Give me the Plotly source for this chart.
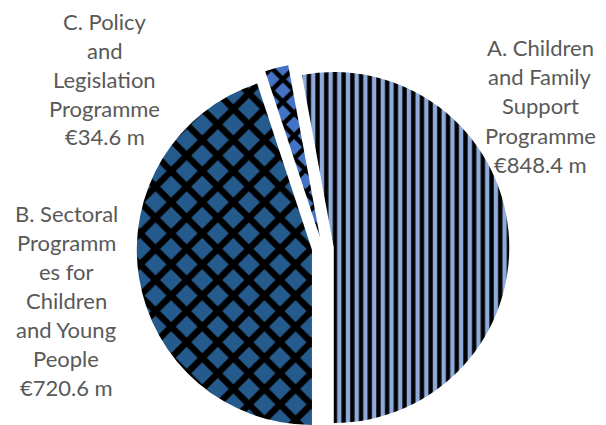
import math
import plotly.graph_objects as go

# Programme spend, € million
programmes = [
    "A. Children and Family Support Programme",
    "B. Sectoral Programmes for Children and Young People",
    "C. Policy and Legislation Programme",
]
spend_m = [848.4, 720.6, 34.6]

# Wrapped label lines shown beside each slice (value line is added from spend_m)
label_lines = [
    ["A. Children", "and Family", "Support", "Programme"],
    ["B. Sectoral", "Programm", "es for", "Children", "and Young", "People"],
    ["C. Policy", "and", "Legislation", "Programme"],
]

# Slice styling
fill_colors = ["#8EAADB", "#255B8C", "#4472C4"]
pattern_shapes = ["|", "x", "x"]
pattern_sizes = [8.7, 22, 16]
pattern_solidity = [0.5, 0.5, 0.5]

# Figure geometry (pixels)
W, H = 606, 425
CX, CY = 322.8, 248.5      # pie centre before explosion
R = 175.5                   # pie radius
PULL_PX = 11                # explosion distance

# Label placement: centre x, first-line centre y, line pitch
label_pos = [(540, 48), (66, 213), (105, 21)]
LINE_PITCH = 29
TEXT_FONT = dict(family="Lato", size=22, color="#595959")

total = sum(spend_m)
fig = go.Figure()

# First slice ends at 6 o'clock; slices run clockwise
start = 180 - 360 * spend_m[0] / total
for i, v in enumerate(spend_m):
    sweep = 360 * v / total
    mid = math.radians(start + sweep / 2)
    cx = CX + PULL_PX * math.sin(mid)
    cy = CY - PULL_PX * math.cos(mid)
    x0 = max(0.0, (cx - R) / W)
    x1 = min(1.0, (cx + R) / W)
    y0 = max(0.0, 1 - (cy + R) / H)
    y1 = min(1.0, 1 - (cy - R) / H)
    fig.add_trace(go.Pie(
        labels=[programmes[i], "rest"],
        values=[v, total - v],
        sort=False,
        direction="clockwise",
        rotation=((start + 180) % 360) - 180,
        domain=dict(x=[x0, x1], y=[y0, y1]),
        marker=dict(
            colors=[fill_colors[i], "rgba(0,0,0,0)"],
            line=dict(width=0),
            pattern=dict(
                shape=[pattern_shapes[i], ""],
                fgcolor=["black", "rgba(0,0,0,0)"],
                bgcolor=[fill_colors[i], "rgba(0,0,0,0)"],
                size=[pattern_sizes[i], pattern_sizes[i]],
                solidity=[pattern_solidity[i], pattern_solidity[i]],
                fillmode="replace",
            ),
        ),
        textinfo="none",
        hoverinfo="none",
        showlegend=False,
    ))
    start += sweep

annotations = []
for i, lines in enumerate(label_lines):
    lx, ly = label_pos[i]
    all_lines = lines + [f"€{spend_m[i]} m"]
    for j, line in enumerate(all_lines):
        annotations.append(dict(
            x=lx / W, y=1 - (ly + j * LINE_PITCH) / H,
            xref="paper", yref="paper",
            text=line, showarrow=False,
            xanchor="center", yanchor="middle",
            font=TEXT_FONT,
        ))

fig.update_layout(
    width=W, height=H,
    margin=dict(l=0, r=0, t=0, b=0),
    paper_bgcolor="white",
    plot_bgcolor="white",
    annotations=annotations,
    showlegend=False,
)

fig.write_html("out.html")
